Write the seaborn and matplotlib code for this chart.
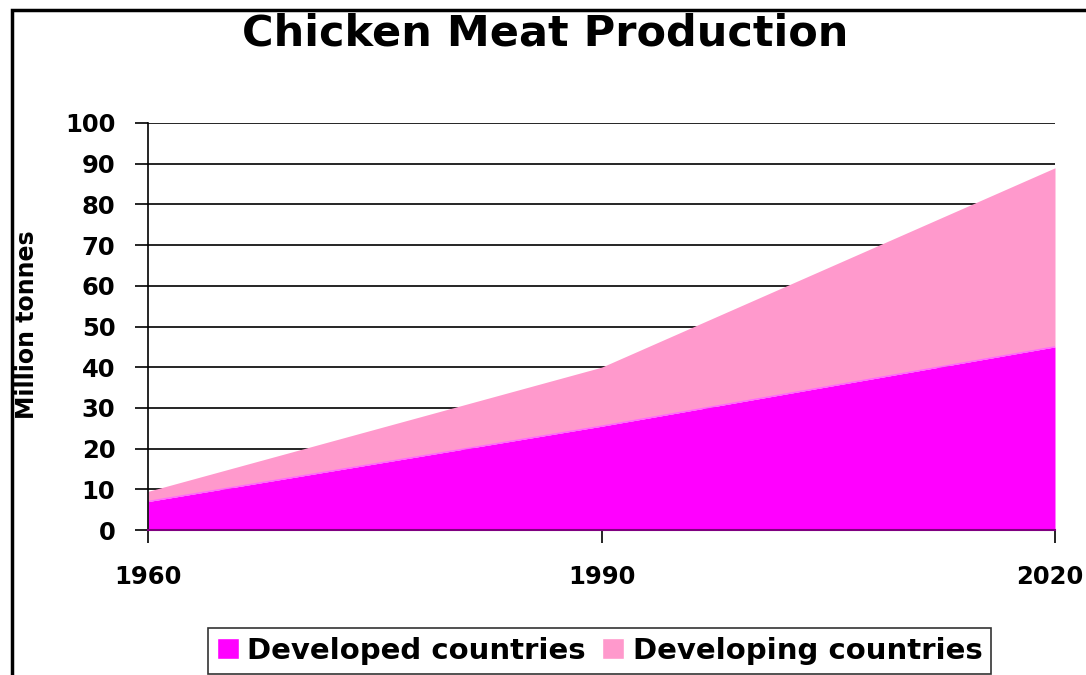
"""
Chicken meat production, developed vs developing countries (stacked area).
"""

import pandas as pd
import numpy as np
import matplotlib.pyplot as plt
import matplotlib.transforms as mtransforms
import seaborn as sns
from matplotlib.patches import Rectangle, Patch

# Data (million tonnes)
years = [1960, 1990, 2020]
developed = [7, 25.5, 45]
developing = [2.5, 14.5, 44]

sns.set_style("white")
plt.rcParams["font.family"] = ["DejaVu Sans"]
plt.rcParams["font.weight"] = "bold"
plt.rcParams["text.color"] = "black"
plt.rcParams["axes.labelcolor"] = "black"
plt.rcParams["xtick.color"] = "black"
plt.rcParams["ytick.color"] = "black"

df = pd.DataFrame({"year": years, "developed": developed, "developing": developing})
df["total"] = df["developed"] + df["developing"]

fig = plt.figure(figsize=(10.86, 6.75), dpi=100)
ax = fig.add_axes([148 / 1086, 1 - 530 / 675, (1055 - 148) / 1086, (530 - 123) / 675])

# gridlines behind the areas
ax.set_axisbelow(True)
ax.yaxis.grid(True, color="black", linewidth=1.2)
ax.xaxis.grid(False)

ax.fill_between(df["year"], 0, df["developed"], color="#FF00FF", linewidth=0, zorder=2)
ax.fill_between(df["year"], df["developed"], df["total"], color="#FF99CC", linewidth=0, zorder=2)
sns.lineplot(data=df, x="year", y="developed", color="#FF66FF", linewidth=1, ax=ax, zorder=3)

ax.set_xlim(1960, 2020)
ax.set_ylim(0, 100)
ax.set_xticks(years)
ax.set_yticks(np.arange(0, 101, 10))
ax.tick_params(axis="both", direction="out", length=9.5, width=1.2, color="black",
               labelsize=17.5)
ax.tick_params(axis="y", pad=14)
ax.tick_params(axis="x", pad=16)
ax.tick_params(left=True, bottom=True)
for lab in ax.get_xticklabels() + ax.get_yticklabels():
    lab.set_fontweight("bold")

# last year label sits right at the edge; nudge it in a little
last = ax.get_xticklabels()[-1]
last.set_transform(last.get_transform() +
                   mtransforms.ScaledTranslation(-5 / 100, 0, fig.dpi_scale_trans))

for side in ["top", "right"]:
    ax.spines[side].set_visible(False)
ax.spines["left"].set_color("black")
ax.spines["left"].set_linewidth(1.2)
ax.spines["bottom"].set_color("#800080")
ax.spines["bottom"].set_linewidth(1.5)
for side in ["left", "bottom"]:
    ax.spines[side].set_zorder(4)

ax.set_xlabel("")
ax.set_ylabel("Million tonnes", fontsize=17, fontweight="bold")
ax.yaxis.set_label_coords(-0.12, 0.505)

fig.text(0.502, 1 - 46 / 675, "Chicken Meat Production", ha="center", va="baseline",
         fontsize=31, fontweight="bold")

handles = [Patch(facecolor="#FF00FF", label="Developed countries"),
           Patch(facecolor="#FF99CC", label="Developing countries")]
leg = fig.legend(handles=handles, loc="lower center", bbox_to_anchor=(0.552, 0.002),
                 ncol=2, frameon=True, fancybox=False, edgecolor="black",
                 prop={"size": 21, "weight": "bold"}, handlelength=0.75,
                 handleheight=0.75, handletextpad=0.3, columnspacing=0.55,
                 borderpad=0.3, borderaxespad=0.0)
leg.get_frame().set_linewidth(1.2)

# outer chart border (left and top edges visible)
fig.patches.append(Rectangle((12 / 1086, -0.05), 1.2, 1 - 10 / 675 + 0.05,
                             transform=fig.transFigure, fill=False,
                             edgecolor="black", linewidth=2.5))

fig.savefig("out.png", dpi=100)
